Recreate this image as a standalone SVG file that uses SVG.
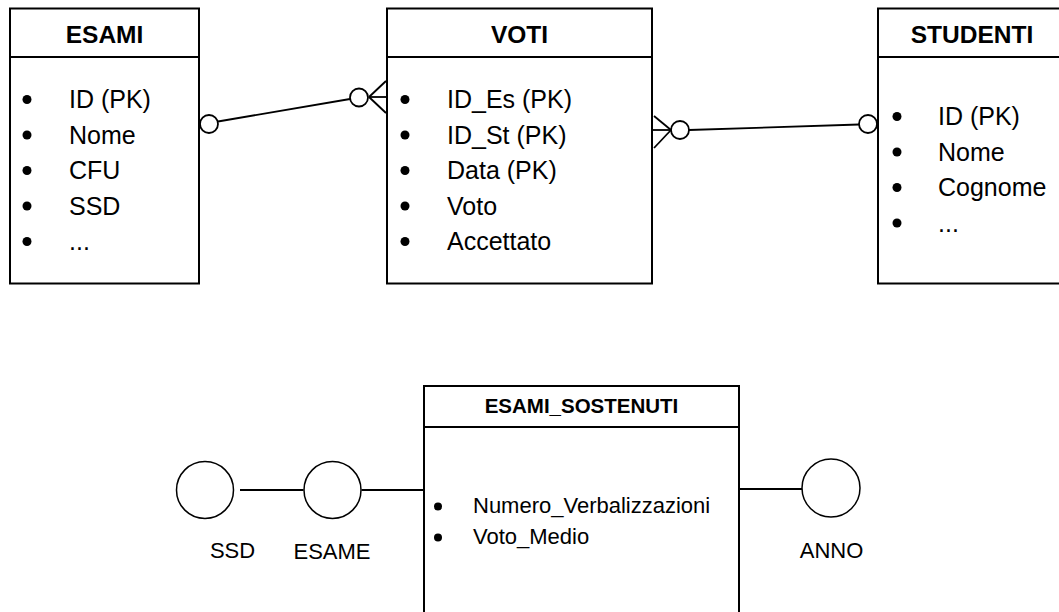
<svg xmlns="http://www.w3.org/2000/svg" width="1059" height="612" viewBox="0 0 1059 612">
  <style>
    .box { fill: #ffffff; stroke: #000000; stroke-width: 2; }
    .sep { stroke: #000000; stroke-width: 2; }
    .hdr { font-family: "Liberation Sans", Arial, sans-serif; font-weight: bold; font-size: 24.5px; fill: #000; text-anchor: middle; }
    .hdr2 { font-family: "Liberation Sans", Arial, sans-serif; font-weight: bold; font-size: 20.5px; fill: #000; text-anchor: middle; }
    .item { font-family: "Liberation Sans", Arial, sans-serif; font-size: 25px; fill: #000; }
    .item2 { font-family: "Liberation Sans", Arial, sans-serif; font-size: 22px; fill: #000; }
    .lbl { font-family: "Liberation Sans", Arial, sans-serif; font-size: 22px; fill: #000; text-anchor: middle; }
    .dot { fill: #000; }
    .line { stroke: #000; stroke-width: 1.8; fill: none; }
    .ring { fill: #fff; stroke: #000; stroke-width: 1.8; }
    .node { fill: #fff; stroke: #000; stroke-width: 1.5; }
  </style>

  <g id="connectors">
    <!-- ESAMI - VOTI -->
    <line class="line" x1="218" y1="121.5" x2="350" y2="99"/>
    <line class="line" x1="369" y1="97" x2="387" y2="97"/>
    <line class="line" x1="369" y1="97" x2="386" y2="81"/>
    <line class="line" x1="369" y1="97" x2="386" y2="113"/>
    <circle class="ring" cx="209" cy="124" r="9"/>
    <circle class="ring" cx="359" cy="97.5" r="9"/>
    <!-- VOTI - STUDENTI -->
    <line class="line" x1="689" y1="130" x2="859" y2="124.5"/>
    <line class="line" x1="652" y1="130" x2="671" y2="130"/>
    <line class="line" x1="671" y1="130" x2="654" y2="116"/>
    <line class="line" x1="671" y1="130" x2="654" y2="148"/>
    <circle class="ring" cx="680" cy="130" r="9"/>
    <circle class="ring" cx="868" cy="124" r="9"/>
    <!-- bottom -->
    <line class="line" x1="240" y1="490" x2="303.5" y2="490"/>
    <line class="line" x1="361.5" y1="490" x2="424" y2="490"/>
    <line class="line" x1="739" y1="489" x2="802" y2="489"/>
  </g>

  <g id="esami">
    <rect class="box" x="10" y="8.5" width="189" height="275"/>
    <line class="sep" x1="10" y1="57" x2="199" y2="57"/>
    <text class="hdr" x="104.5" y="43">ESAMI</text>
    <circle class="dot" cx="27" cy="99.5" r="4.5"/>
    <circle class="dot" cx="27" cy="135" r="4.5"/>
    <circle class="dot" cx="27" cy="170.5" r="4.5"/>
    <circle class="dot" cx="27" cy="206" r="4.5"/>
    <circle class="dot" cx="27" cy="241.5" r="4.5"/>
    <text class="item" x="69" y="108">ID (PK)</text>
    <text class="item" x="69" y="143.5">Nome</text>
    <text class="item" x="69" y="179">CFU</text>
    <text class="item" x="69" y="214.5">SSD</text>
    <text class="item" x="69" y="250">...</text>
  </g>

  <g id="voti">
    <rect class="box" x="387" y="8.5" width="265" height="275"/>
    <line class="sep" x1="387" y1="57" x2="652" y2="57"/>
    <text class="hdr" x="519.5" y="43">VOTI</text>
    <circle class="dot" cx="405" cy="99.5" r="4.5"/>
    <circle class="dot" cx="405" cy="135" r="4.5"/>
    <circle class="dot" cx="405" cy="170.5" r="4.5"/>
    <circle class="dot" cx="405" cy="206" r="4.5"/>
    <circle class="dot" cx="405" cy="241.5" r="4.5"/>
    <text class="item" x="447" y="108">ID_Es (PK)</text>
    <text class="item" x="447" y="143.5">ID_St (PK)</text>
    <text class="item" x="447" y="179">Data (PK)</text>
    <text class="item" x="447" y="214.5">Voto</text>
    <text class="item" x="447" y="250">Accettato</text>
  </g>

  <g id="studenti">
    <rect class="box" x="878" y="8.5" width="200" height="275"/>
    <line class="sep" x1="878" y1="57" x2="1078" y2="57"/>
    <text class="hdr" x="972" y="43">STUDENTI</text>
    <circle class="dot" cx="897" cy="116.5" r="4.5"/>
    <circle class="dot" cx="897" cy="152" r="4.5"/>
    <circle class="dot" cx="897" cy="187.5" r="4.5"/>
    <circle class="dot" cx="897" cy="223" r="4.5"/>
    <text class="item" x="938" y="125">ID (PK)</text>
    <text class="item" x="938" y="160.5">Nome</text>
    <text class="item" x="938" y="196">Cognome</text>
    <text class="item" x="938" y="231.5">...</text>
  </g>

  <g id="esami_sostenuti">
    <rect class="box" x="424" y="386" width="315" height="240"/>
    <line class="sep" x1="424" y1="427" x2="739" y2="427"/>
    <text class="hdr2" x="581.5" y="413">ESAMI_SOSTENUTI</text>
    <circle class="dot" cx="438" cy="506.5" r="4"/>
    <circle class="dot" cx="438" cy="537.5" r="4"/>
    <text class="item2" x="473" y="513">Numero_Verbalizzazioni</text>
    <text class="item2" x="473" y="544">Voto_Medio</text>
  </g>

  <g id="ssd">
    <circle class="node" cx="205" cy="490" r="28.5"/>
    <text class="lbl" x="232.5" y="558">SSD</text>
  </g>

  <g id="esame">
    <circle class="node" cx="332.5" cy="490" r="28.5"/>
    <text class="lbl" x="332" y="559">ESAME</text>
  </g>

  <g id="anno">
    <circle class="node" cx="831" cy="488" r="29"/>
    <text class="lbl" x="831.5" y="558">ANNO</text>
  </g>
</svg>
